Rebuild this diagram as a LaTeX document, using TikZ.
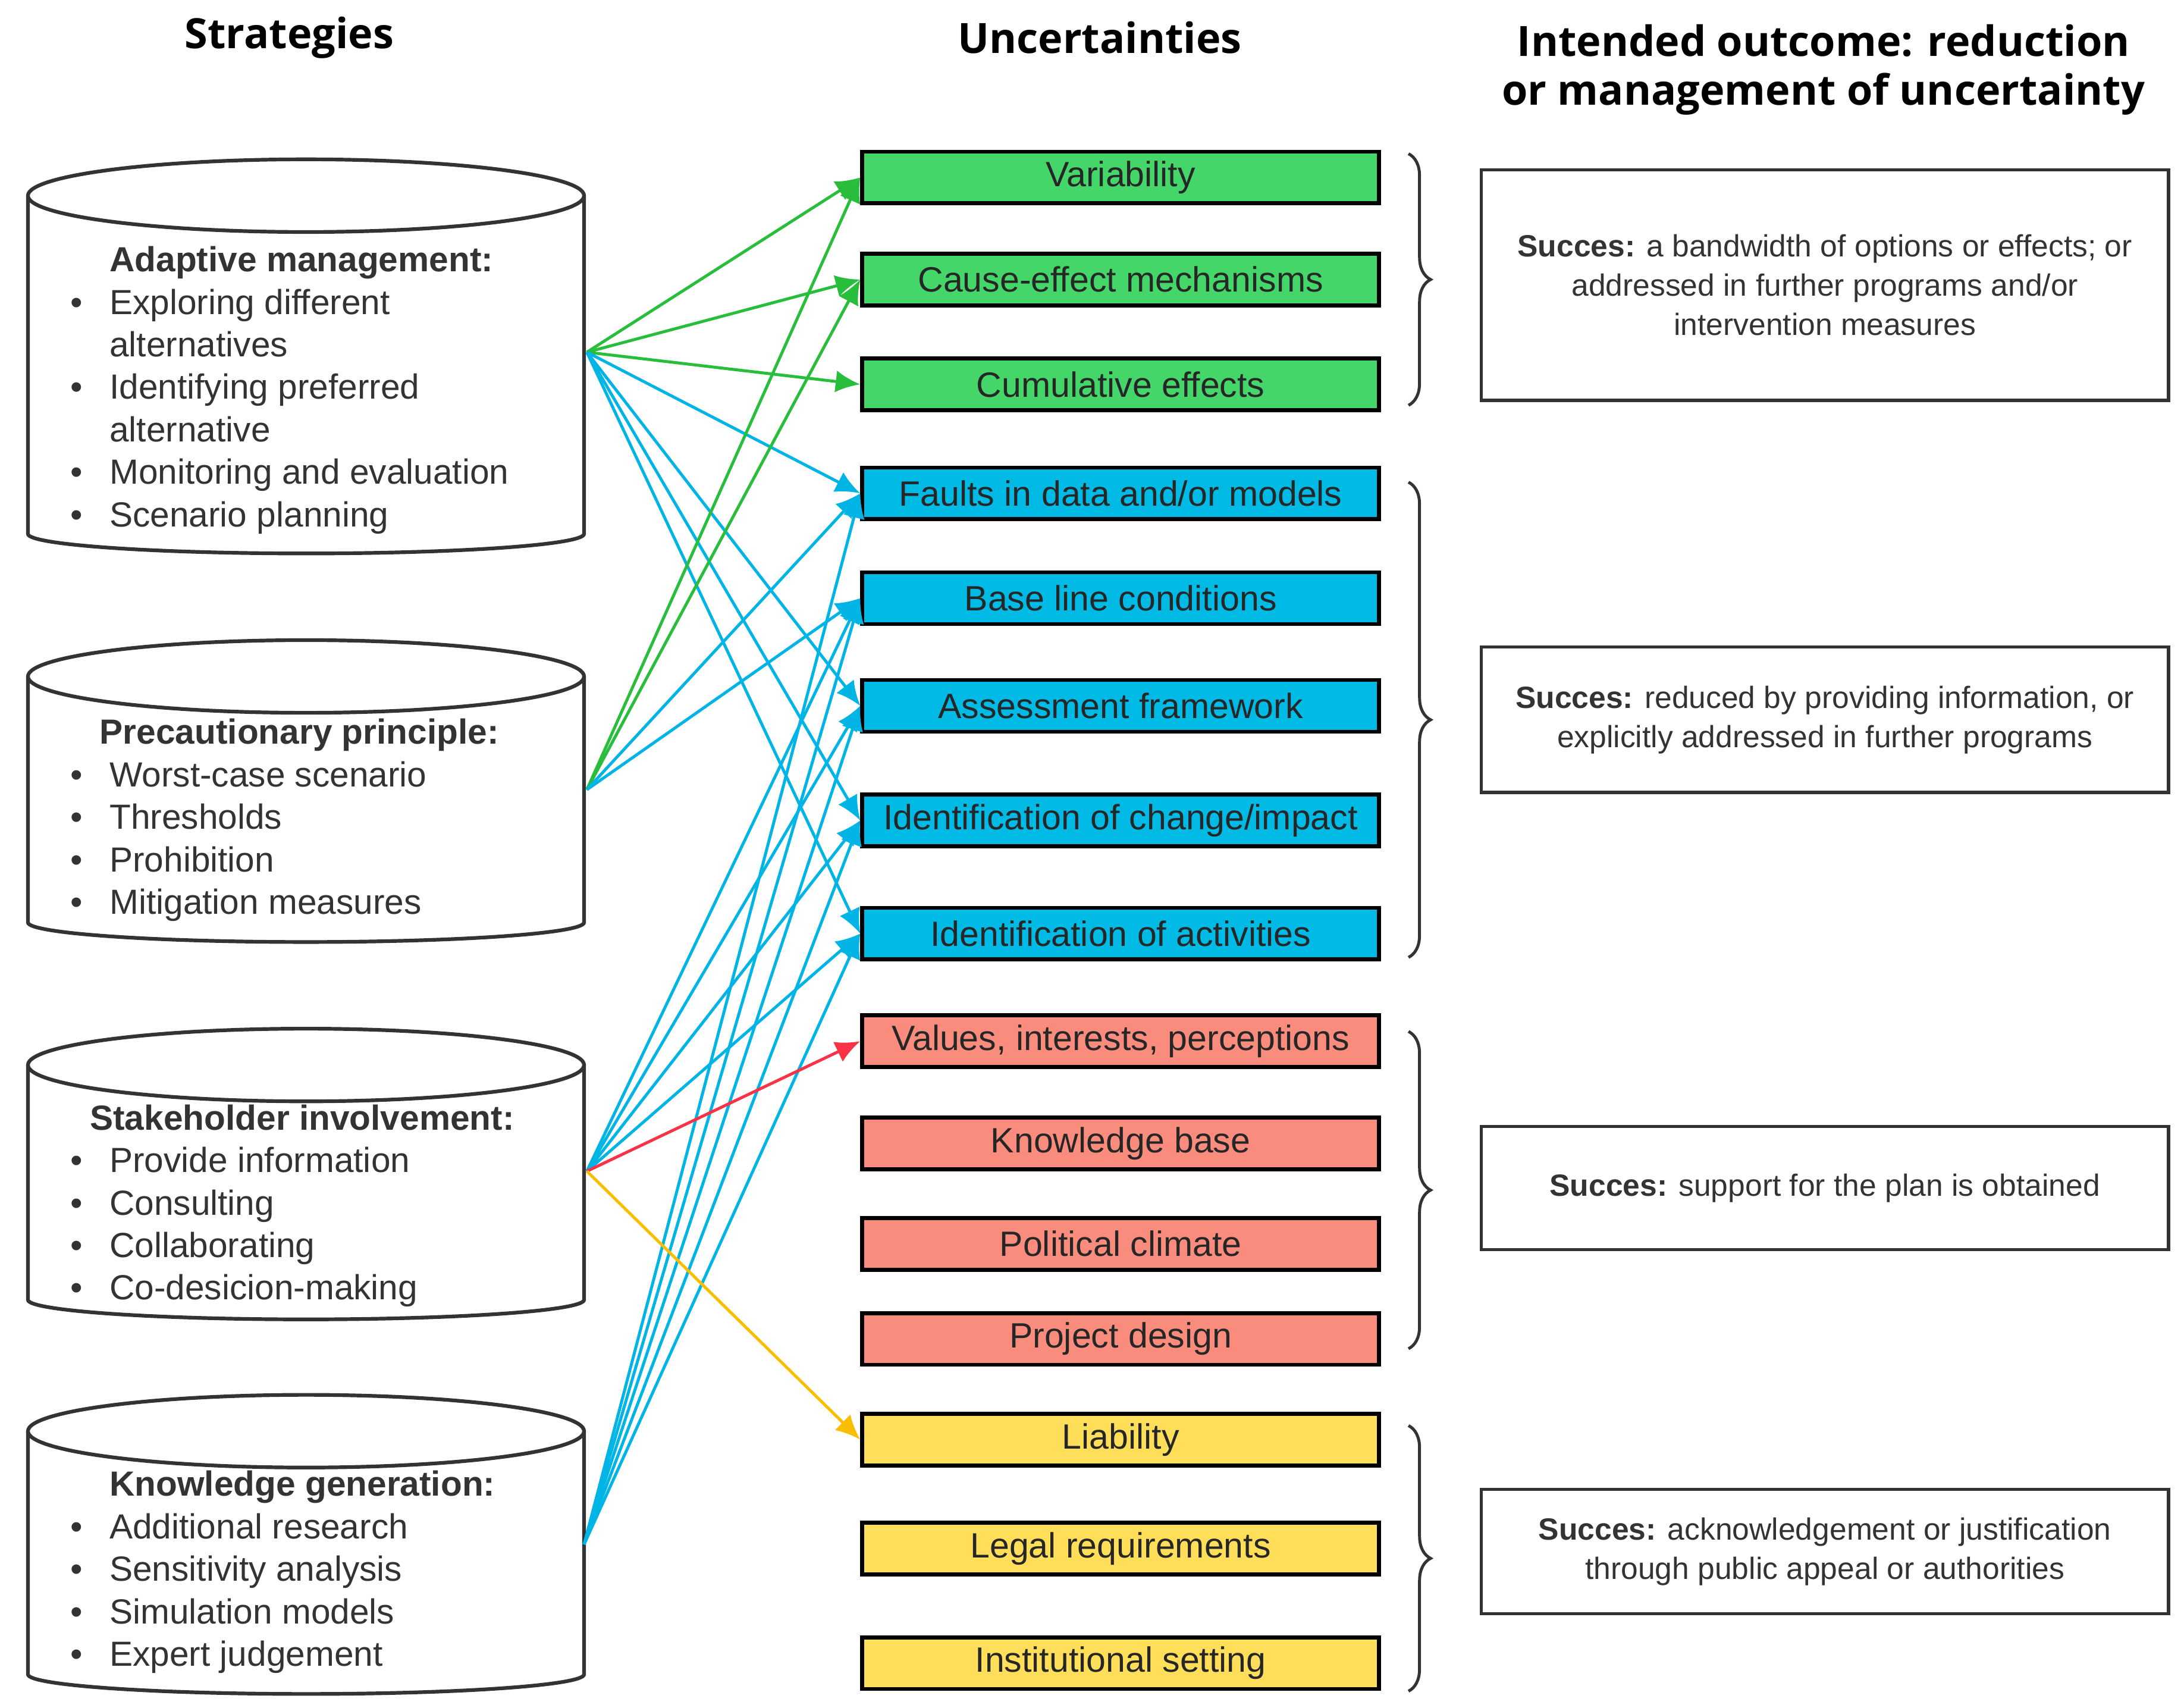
\documentclass[tikz,border=0pt]{standalone}
\usepackage{fontspec}
\setmainfont{Liberation Sans}
\newfontfamily\headf{Open Sans}
\usetikzlibrary{arrows.meta,decorations.pathreplacing}
\definecolor{cg}{RGB}{68,214,104}
\definecolor{cb}{RGB}{0,186,230}
\definecolor{cr}{RGB}{250,140,125}
\definecolor{cy}{RGB}{255,222,90}
\definecolor{lg}{RGB}{40,190,60}
\definecolor{lb}{RGB}{0,180,230}
\definecolor{lr}{RGB}{250,50,70}
\definecolor{ly}{RGB}{250,190,0}
\newcommand{\bl}{\makebox[16pt][l]{\textbullet}}
\newcommand{\ind}{\hspace*{16pt}}
\begin{document}
\begin{tikzpicture}[x=0.02cm,y=-0.02cm,
 hd/.style={font=\headf\fontsize{17}{20}\selectfont\bfseries, align=center},
 ub/.style={draw=black, line width=1.6pt, minimum width=7.4cm, minimum height=0.74cm, inner sep=0pt, font=\fontsize{14.3}{16}\selectfont, text=black!85},
 ob/.style={draw=black!80, line width=1.3pt, minimum width=9.84cm, inner sep=0pt, align=center, font=\fontsize{12.5}{16}\selectfont, text=black!80},
 ar/.style={line width=1.2pt, -{Latex[length=10pt,width=9pt]}},
 br/.style={decorate, decoration={brace, amplitude=9pt}, line width=1.2pt, draw=black!80},
 lst/.style={anchor=north west, align=left, inner sep=0pt, font=\fontsize{14.2}{17.3}\selectfont, text=black!80}]
\useasboundingbox (0,0) rectangle (1563,1222);
% headers
\node[hd] (h1) at (207,27) {Strategies};
\node[hd] (h2) at (787,27) {Uncertainties};
\node[hd] (h3) at (1305,50) {Intended outcome: reduction\\or management of uncertainty};
% cylinders
\newcommand{\cyl}[4]{% x1,x2,ytop,ybot
 \draw[line width=1.5pt, black!80] (#1,#3) -- (#1,#4) arc[start angle=180,end angle=0,x radius={(#2-#1)/2},y radius=14] -- (#2,#3);
 \draw[line width=1.5pt, black!80] ({(#1+#2)/2},#3) ellipse[x radius={(#2-#1)/2},y radius=26];}
\cyl{20}{418}{140}{382}
\cyl{20}{418}{484}{660}
\cyl{20}{418}{762}{930}
\cyl{20}{418}{1024}{1198}
\node[lst] (t1) at (50,176) {\hspace*{16pt}\textbf{Adaptive management:}\\
\bl Exploring different\\\ind alternatives\\
\bl Identifying preferred\\\ind alternative\\
\bl Monitoring and evaluation\\
\bl Scenario planning};
\node[lst] (t2) at (50,514) {\hspace*{12pt}\textbf{Precautionary principle:}\\
\bl Worst-case scenario\\
\bl Thresholds\\
\bl Prohibition\\
\bl Mitigation measures};
\node[lst] (t3) at (50,790) {\hspace*{8pt}\textbf{Stakeholder involvement:}\\
\bl Provide information\\
\bl Consulting\\
\bl Collaborating\\
\bl Co-desicion-making};
\node[lst] (t4) at (50,1052) {\hspace*{16pt}\textbf{Knowledge generation:}\\
\bl Additional research\\
\bl Sensitivity analysis\\
\bl Simulation models\\
\bl Expert judgement};
\coordinate (s1) at (420,252);
\coordinate (s2) at (420,565);
\coordinate (s3) at (420,838);
\coordinate (s4) at (418,1105);
% uncertainty boxes
\foreach \n/\y/\c/\t in {u1/127/cg/Variability,u2/200/cg/Cause-effect mechanisms,u3/275/cg/Cumulative effects,
 u4/353/cb/{Faults in data and\slash or models},u5/428/cb/Base line conditions,u6/505/cb/Assessment framework,
 u7/587/cb/{Identification of change\slash impact},u8/668/cb/Identification of activities,
 u9/745/cr/{Values, interests, perceptions},u10/818/cr/Knowledge base,u11/890/cr/Political climate,u12/958/cr/Project design,
 u13/1030/cy/Liability,u14/1108/cy/Legal requirements,u15/1190/cy/Institutional setting}
 \node[ub, fill=\c] (\n) at (802,\y) {\t};
% arrows
\foreach \t in {u1,u2,u3} \draw[ar, lg] (s1) -- (\t.west);
\foreach \t in {u4,u6,u7,u8} \draw[ar, lb] (s1) -- (\t.west);
\foreach \t in {u1,u2} \draw[ar, lg] (s2) -- (\t.west);
\foreach \t in {u4,u5} \draw[ar, lb] (s2) -- (\t.west);
\foreach \t in {u5,u6,u7,u8} \draw[ar, lb] (s3) -- (\t.west);
\foreach \t in {u4,u5,u6,u7,u8} \draw[ar, lb] (s4) -- (\t.west);
\draw[ar, lr] (s3) -- (u9.west);
\draw[ar, ly] (s3) -- (u13.west);
% braces
\draw[br] (1008,110) -- (1008,290) coordinate[midway] (b1);
\draw[br] (1008,345) -- (1008,685) coordinate[midway] (b2);
\draw[br] (1008,738) -- (1008,965) coordinate[midway] (b3);
\draw[br] (1008,1020) -- (1008,1210) coordinate[midway] (b4);
% outcome boxes
\node[ob, minimum height=3.3cm] (o1) at (1306,204) {\textbf{Succes:} a bandwidth of options or effects; or\\addressed in further programs and/or\\intervention measures};
\node[ob, minimum height=2.08cm] (o2) at (1306,515) {\textbf{Succes:} reduced by providing information, or\\explicitly addressed in further programs};
\node[ob, minimum height=1.76cm] (o3) at (1306,850) {\textbf{Succes:} support for the plan is obtained};
\node[ob, minimum height=1.78cm] (o4) at (1306,1110) {\textbf{Succes:} acknowledgement or justification\\through public appeal or authorities};
\end{tikzpicture}
\end{document}
